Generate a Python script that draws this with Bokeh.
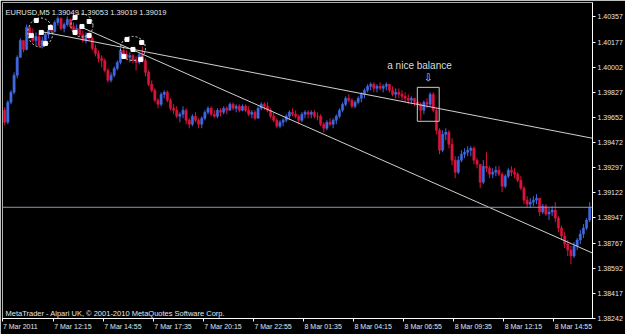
from bokeh.plotting import figure
from bokeh.models import (FixedTicker, Span, Label, ColumnDataSource, PrintfTickFormatter,
                          LinearAxis, Range1d)
from bokeh.embed import file_html
from bokeh.resources import INLINE
from bokeh.core.properties import value

# ---- data: EURUSD bars (10-minute steps, time in minutes from 7 Mar 2011 00:00) ----
bar_start = 580
bar_step = 10
first_open = 1.39700

highs = [
    1.39720, 1.39769, 1.39839, 1.39965, 1.40084, 1.40203, 1.40189, 1.40301, 1.40294, 1.40273,
    1.40245, 1.40238, 1.40217, 1.40245, 1.40273, 1.40301, 1.40329, 1.40357, 1.40350, 1.40315,
    1.40357, 1.40343, 1.40315, 1.40301, 1.40287, 1.40259, 1.40245, 1.40259, 1.40217, 1.40161,
    1.40119, 1.40084, 1.40063, 1.39993, 1.39965, 1.40007, 1.40049, 1.40133, 1.40147, 1.40119,
    1.40105, 1.40091, 1.40077, 1.40105, 1.40147, 1.40063, 1.39979, 1.39909, 1.39853, 1.39783,
    1.39825, 1.39839, 1.39839, 1.39783, 1.39741, 1.39727, 1.39685, 1.39727, 1.39713, 1.39643,
    1.39671, 1.39685, 1.39643, 1.39657, 1.39699, 1.39727, 1.39727, 1.39699, 1.39713, 1.39713,
    1.39727, 1.39727, 1.39755, 1.39755, 1.39741, 1.39741, 1.39741, 1.39741, 1.39727, 1.39699,
    1.39699, 1.39727, 1.39755, 1.39755, 1.39755, 1.39713, 1.39685, 1.39643, 1.39629, 1.39643,
    1.39671, 1.39699, 1.39713, 1.39699, 1.39671, 1.39685, 1.39699, 1.39699, 1.39699, 1.39699,
    1.39685, 1.39671, 1.39615, 1.39629, 1.39643, 1.39643, 1.39671, 1.39713, 1.39755, 1.39797,
    1.39811, 1.39783, 1.39769, 1.39797, 1.39825, 1.39853, 1.39881, 1.39895, 1.39895, 1.39881,
    1.39895, 1.39881, 1.39895, 1.39881, 1.39867, 1.39853, 1.39853, 1.39839, 1.39825, 1.39811,
    1.39797, 1.39783, 1.39769, 1.39755, 1.39769, 1.39783, 1.39825, 1.39825, 1.39713, 1.39573,
    1.39559, 1.39573, 1.39559, 1.39503, 1.39377, 1.39377, 1.39419, 1.39433, 1.39447, 1.39447,
    1.39447, 1.39363, 1.39321, 1.39349, 1.39405, 1.39307, 1.39293, 1.39307, 1.39307, 1.39265,
    1.39251, 1.39293, 1.39307, 1.39293, 1.39265, 1.39237, 1.39167, 1.39097, 1.39083, 1.39097,
    1.39111, 1.39083, 1.39041, 1.39041, 1.39013, 1.39027, 1.39055, 1.38957, 1.38887, 1.38845,
    1.38789, 1.38747, 1.38775, 1.38803, 1.38859, 1.38901, 1.38943, 1.39055,
]
lows = [
    1.39594, 1.39601, 1.39741, 1.39811, 1.39923, 1.40119, 1.40105, 1.40119, 1.40203, 1.40175,
    1.40154, 1.40140, 1.40133, 1.40175, 1.40203, 1.40238, 1.40245, 1.40294, 1.40259, 1.40245,
    1.40287, 1.40273, 1.40238, 1.40231, 1.40217, 1.40175, 1.40168, 1.40189, 1.40119, 1.40077,
    1.40035, 1.40000, 1.39965, 1.39895, 1.39895, 1.39930, 1.39979, 1.40021, 1.40077, 1.40049,
    1.40035, 1.40028, 1.39979, 1.40021, 1.40035, 1.39937, 1.39867, 1.39825, 1.39755, 1.39713,
    1.39727, 1.39783, 1.39755, 1.39699, 1.39671, 1.39643, 1.39615, 1.39643, 1.39601, 1.39573,
    1.39587, 1.39615, 1.39573, 1.39573, 1.39629, 1.39671, 1.39657, 1.39643, 1.39643, 1.39657,
    1.39671, 1.39671, 1.39699, 1.39699, 1.39685, 1.39685, 1.39692, 1.39685, 1.39657, 1.39643,
    1.39629, 1.39643, 1.39699, 1.39699, 1.39685, 1.39643, 1.39615, 1.39573, 1.39573, 1.39587,
    1.39615, 1.39629, 1.39657, 1.39643, 1.39601, 1.39615, 1.39643, 1.39643, 1.39643, 1.39643,
    1.39629, 1.39587, 1.39545, 1.39559, 1.39587, 1.39573, 1.39601, 1.39643, 1.39685, 1.39727,
    1.39755, 1.39713, 1.39713, 1.39741, 1.39755, 1.39783, 1.39825, 1.39839, 1.39825, 1.39825,
    1.39839, 1.39825, 1.39839, 1.39825, 1.39797, 1.39783, 1.39783, 1.39769, 1.39755, 1.39741,
    1.39741, 1.39727, 1.39699, 1.39629, 1.39671, 1.39713, 1.39727, 1.39685, 1.39531, 1.39391,
    1.39405, 1.39489, 1.39433, 1.39314, 1.39223, 1.39251, 1.39335, 1.39363, 1.39377, 1.39377,
    1.39321, 1.39293, 1.39153, 1.39181, 1.39265, 1.39223, 1.39223, 1.39237, 1.39237, 1.39125,
    1.39153, 1.39223, 1.39237, 1.39223, 1.39195, 1.39139, 1.39041, 1.39013, 1.39013, 1.39027,
    1.39041, 1.38957, 1.38971, 1.38957, 1.38929, 1.38957, 1.38915, 1.38845, 1.38789, 1.38733,
    1.38677, 1.38621, 1.38663, 1.38719, 1.38761, 1.38803, 1.38859, 1.38915,
]
closes = [
    1.39615, 1.39755, 1.39825, 1.39944, 1.40070, 1.40189, 1.40126, 1.40280, 1.40224, 1.40189,
    1.40217, 1.40154, 1.40189, 1.40231, 1.40259, 1.40252, 1.40315, 1.40343, 1.40273, 1.40301,
    1.40336, 1.40287, 1.40259, 1.40273, 1.40231, 1.40189, 1.40224, 1.40203, 1.40133, 1.40098,
    1.40063, 1.40049, 1.39979, 1.39909, 1.39944, 1.39993, 1.40035, 1.40119, 1.40091, 1.40070,
    1.40084, 1.40049, 1.40035, 1.40091, 1.40049, 1.39965, 1.39881, 1.39839, 1.39769, 1.39741,
    1.39811, 1.39825, 1.39769, 1.39713, 1.39699, 1.39657, 1.39671, 1.39699, 1.39629, 1.39601,
    1.39657, 1.39629, 1.39601, 1.39643, 1.39685, 1.39713, 1.39671, 1.39657, 1.39699, 1.39685,
    1.39713, 1.39699, 1.39741, 1.39713, 1.39727, 1.39699, 1.39727, 1.39699, 1.39671, 1.39685,
    1.39643, 1.39713, 1.39741, 1.39727, 1.39699, 1.39657, 1.39629, 1.39587, 1.39615, 1.39629,
    1.39657, 1.39685, 1.39671, 1.39657, 1.39629, 1.39671, 1.39685, 1.39671, 1.39685, 1.39657,
    1.39657, 1.39601, 1.39573, 1.39615, 1.39601, 1.39629, 1.39657, 1.39699, 1.39741, 1.39783,
    1.39769, 1.39727, 1.39755, 1.39783, 1.39811, 1.39839, 1.39867, 1.39881, 1.39853, 1.39867,
    1.39853, 1.39867, 1.39881, 1.39839, 1.39811, 1.39825, 1.39811, 1.39797, 1.39783, 1.39769,
    1.39783, 1.39755, 1.39741, 1.39699, 1.39755, 1.39741, 1.39811, 1.39699, 1.39559, 1.39419,
    1.39531, 1.39545, 1.39461, 1.39349, 1.39265, 1.39349, 1.39391, 1.39405, 1.39419, 1.39433,
    1.39349, 1.39321, 1.39195, 1.39307, 1.39293, 1.39251, 1.39265, 1.39279, 1.39251, 1.39167,
    1.39237, 1.39279, 1.39265, 1.39251, 1.39209, 1.39153, 1.39069, 1.39041, 1.39055, 1.39069,
    1.39083, 1.38985, 1.39027, 1.38971, 1.38985, 1.38999, 1.38943, 1.38873, 1.38817, 1.38761,
    1.38719, 1.38677, 1.38747, 1.38789, 1.38831, 1.38873, 1.38929, 1.39019,
]

current_price = 1.39019
title_text = "EURUSD,M5  1.39049 1.39053 1.39019 1.39019"
footer_text = "MetaTrader - Alpari UK, \u00a9 2001-2010 MetaQuotes Software Corp."

x_ticks = [573, 735, 895, 1055, 1215, 1375, 1535, 1695, 1855, 2015, 2175, 2335]
x_labels = ["7 Mar 2011", "7 Mar 12:15", "7 Mar 14:55", "7 Mar 17:35", "7 Mar 20:15",
            "7 Mar 22:55", "8 Mar 01:35", "8 Mar 04:15", "8 Mar 06:55", "8 Mar 09:35",
            "8 Mar 12:15", "8 Mar 14:55"]
y_ticks = [1.40357, 1.40177, 1.40002, 1.39827, 1.39652, 1.39472, 1.39297, 1.39122,
           1.38947, 1.38767, 1.38592, 1.38417, 1.38242]

# drawn objects (trend lines, ellipses, box, note)
upper_line_t = [694, 2459]
upper_line_p = [1.40252, 1.39503]
lower_line_t = [827, 2459]
lower_line_p = [1.40280, 1.38698]
ellipse_t = [694, 827, 990]
ellipse_p = [1.40245, 1.40294, 1.40133]
ellipse_w = [25, 22, 25]
ellipse_h = [29, 23, 24]
handle_t = [681, 726, 697, 665, 710, 805, 850, 827, 805, 850, 971, 1018, 990, 961, 1015]
handle_p = [1.40329, 1.40280, 1.40245, 1.40224, 1.40168,
            1.40350, 1.40322, 1.40287, 1.40245, 1.40224,
            1.40196, 1.40175, 1.40126, 1.40077, 1.40056]
box_t = [1899, 1969]
box_p = [1.39622, 1.39860]
note_text = "a nice balance"
note_t, note_p = 1906, 1.40014
arrow_t, arrow_p = 1934, 1.39930

# ---- build ----
X0, X1 = 573, 2459
FRAME_W = 593
min_per_px = (X1 - X0) / FRAME_W

n = min(len(highs), len(lows), len(closes))
times = [bar_start + bar_step * i for i in range(n)]
opens = [first_open] + closes[:n - 1]
BLUE, RED = "#4169e1", "#dc143c"
colors = [BLUE if closes[i] > opens[i] else RED for i in range(n)]
src = ColumnDataSource(dict(
    t=times, h=highs[:n], l=lows[:n], c=colors,
    top=[max(o, c) for o, c in zip(opens, closes[:n])],
    bot=[min(o, c) for o, c in zip(opens, closes[:n])],
))

FONT = "Liberation Sans"
FG = "#e6e6e6"

p = figure(width=625, height=334, x_range=Range1d(X0, X1), y_range=Range1d(1.38239, 1.40455),
           output_backend="svg", toolbar_location=None,
           x_axis_location=None, y_axis_location=None,
           min_border_left=2, min_border_top=2, min_border_right=30, min_border_bottom=16,
           background_fill_color="black", border_fill_color="black",
           outline_line_color="#b0b0b0")
p.grid.visible = False

def style(ax, size="7px"):
    ax.axis_line_color = "#ffffff"
    ax.major_tick_line_color = "#ffffff"
    ax.major_tick_in = 0
    ax.major_tick_out = 3
    ax.minor_tick_line_color = None
    ax.major_label_standoff = 2
    ax.major_label_text_color = FG
    ax.major_label_text_font = FONT
    ax.major_label_text_font_size = size

# bottom: tick marks at the bar times, labels written to the right of each tick
xaxis_ticks = LinearAxis(ticker=FixedTicker(ticks=x_ticks),
                         major_label_overrides={t: "" for t in x_ticks})
style(xaxis_ticks, "0px")
xaxis_ticks.major_label_standoff = 0
label_pos = [t + round((1 + 1.7 * len(s)) * min_per_px) for t, s in zip(x_ticks, x_labels)]
xaxis_labels = LinearAxis(ticker=FixedTicker(ticks=label_pos),
                          major_label_overrides={t: s for t, s in zip(label_pos, x_labels)})
style(xaxis_labels)
xaxis_labels.axis_line_color = None
xaxis_labels.major_tick_line_color = None
xaxis_labels.major_tick_out = 0
xaxis_labels.major_label_standoff = 1
p.add_layout(xaxis_ticks, "below")
p.add_layout(xaxis_labels, "below")

yaxis = LinearAxis(ticker=FixedTicker(ticks=y_ticks), formatter=PrintfTickFormatter(format="%.5f"))
style(yaxis)
p.add_layout(yaxis, "right")

# bars: wick low-high plus body open-close
p.segment(x0="t", y0="l", x1="t", y1="h", source=src, line_color="c", line_width=1)
p.vbar(x="t", top="top", bottom="bot", width=bar_step * 0.72, source=src,
       fill_color="c", line_color="c", line_width=0.5)

p.add_layout(Span(location=current_price, dimension="width", line_color="#8a9aac", line_width=1))

p.line(upper_line_t, upper_line_p, line_color="#d0d0d0", line_width=1)
p.line(lower_line_t, lower_line_p, line_color="#d0d0d0", line_width=1)
p.ellipse(x=ellipse_t, y=ellipse_p, width=ellipse_w, height=ellipse_h,
          width_units="screen", height_units="screen",
          fill_color=None, line_color="#d8d8d8", line_width=1, line_dash="2 2")
p.scatter(handle_t, handle_p, marker="square", size=4, fill_color="white", line_color="white")
p.quad(left=[box_t[0]], right=[box_t[1]], bottom=[box_p[0]], top=[box_p[1]],
       fill_color=None, line_color="#c8c8c8", line_width=1)
p.text(x=[note_t], y=[note_p], text=[note_text], text_font=value(FONT), text_font_size="10px",
       text_align="center", text_baseline="middle", text_color="#dcdcdc")
p.text(x=[arrow_t], y=[arrow_p], text=["\u21e9"], text_font=value("DejaVu Sans"),
       text_font_size="10px", text_align="center", text_baseline="middle", text_color="#dcdcdc")

p.add_layout(Label(x=3, y=306, x_units="screen", y_units="screen", text=title_text,
                   text_font=FONT, text_font_size="7.5px", text_color=FG,
                   text_align="left", text_baseline="middle"))
p.add_layout(Label(x=3, y=5, x_units="screen", y_units="screen", text=footer_text,
                   text_font=FONT, text_font_size="7.5px", text_color=FG,
                   text_align="left", text_baseline="middle"))

open("out.html", "w").write(file_html(p, INLINE))
